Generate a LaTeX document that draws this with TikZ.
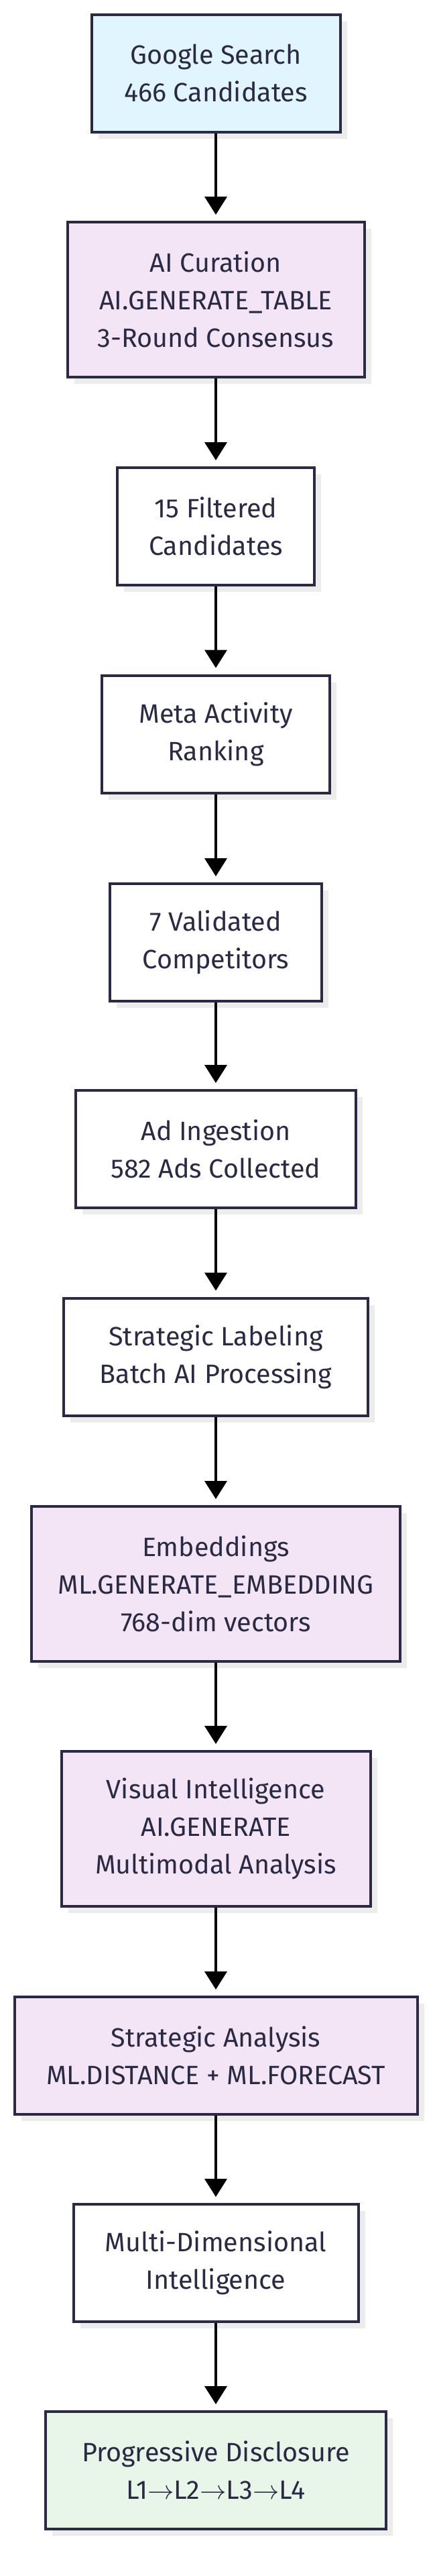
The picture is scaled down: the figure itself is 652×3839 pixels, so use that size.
\RequirePackage{fix-cm}
\documentclass[tikz,border=0pt]{standalone}
\usepackage{fontspec}
\setmainfont{Fira Sans}
\usepackage{tikz}
\usetikzlibrary{arrows.meta,shadows}
\definecolor{navy}{RGB}{42,42,68}
\definecolor{lightblue}{RGB}{225,245,254}
\definecolor{lightpurple}{RGB}{243,229,245}
\definecolor{lightgreen}{RGB}{232,245,233}
\definecolor{shadowgray}{RGB}{236,236,236}
\tikzstyle{stage}=[shape=rectangle,draw=navy,line width=4pt,fill=white,text=navy,inner sep=0pt,align=center,minimum height=175pt,
  font=\fontsize{39.5}{56}\selectfont,
  drop shadow={shadow xshift=10pt,shadow yshift=-10pt,fill=shadowgray,opacity=1}]
\tikzstyle{Wstage}=[stage]
\tikzstyle{Bstage}=[stage,fill=lightblue]
\tikzstyle{Pstage}=[stage,fill=lightpurple]
\tikzstyle{Gstage}=[stage,fill=lightgreen]
\tikzstyle{flowedge}=[-{Triangle[width=33pt,length=27pt]},line width=4pt,black,shorten >=9pt]

\begin{document}
\begin{tikzpicture}[x=1pt,y=-1pt]
\useasboundingbox (0,0) rectangle (652,3839);

%search and curation
\node[Bstage,minimum width=371pt] (srch) at (322,109){Google Search\\466 Candidates};
\node[Pstage,minimum width=443pt,minimum height=231pt] (cur) at (322,446.5){AI Curation\\AI.GENERATE\_TABLE\\3-Round Consensus};

%competitor selection
\node[Wstage,minimum width=294pt] (filt) at (322,784.5){15 Filtered\\Candidates};
\node[Wstage,minimum width=340pt] (meta) at (322,1094){Meta Activity\\Ranking};
\node[Wstage,minimum width=316pt] (val) at (322,1404.5){7 Validated\\Competitors};

%ads
\node[Wstage,minimum width=418pt] (ing) at (322,1712.5){Ad Ingestion\\582 Ads Collected};
\node[Wstage,minimum width=454pt] (lab) at (322,2022){Strategic Labeling\\Batch AI Processing};
\node[Pstage,minimum width=550pt,minimum height=231pt] (emb) at (322,2360.5){Embeddings\\ML.GENERATE\_EMBEDDING\\768-dim vectors};
\node[Pstage,minimum width=461pt,minimum height=231pt] (vis) at (322,2725.5){Visual Intelligence\\AI.GENERATE\\Multimodal Analysis};

%output
\node[Pstage,minimum width=601pt] (ana) at (322,3063.5){Strategic Analysis\\ML.DISTANCE + ML.FORECAST};
\node[Wstage,minimum width=425pt] (mdi) at (322,3372.5){Multi-Dimensional\\Intelligence};
\node[Gstage,minimum width=508pt] (prog) at (322,3681.5){Progressive Disclosure\\L1$\rightarrow$L2$\rightarrow$L3$\rightarrow$L4};

 \path
(srch) edge [flowedge] (cur)
(cur) edge [flowedge] (filt)
(filt) edge [flowedge] (meta)
(meta) edge [flowedge] (val)
(val) edge [flowedge] (ing)
(ing) edge [flowedge] (lab)
(lab) edge [flowedge] (emb)
(emb) edge [flowedge] (vis)
(vis) edge [flowedge] (ana)
(ana) edge [flowedge] (mdi)
(mdi) edge [flowedge] (prog)
;

\end{tikzpicture}
\end{document}
